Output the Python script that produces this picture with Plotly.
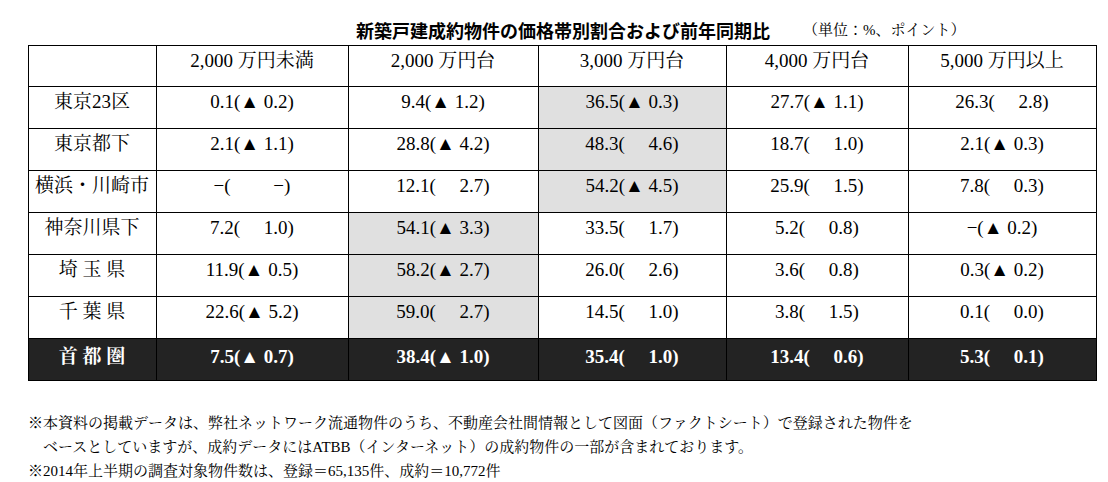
import plotly.graph_objects as go

regions = ["東京23区", "東京都下", "横浜・川崎市", "神奈川県下", "埼 玉 県", "千 葉 県", "<b>首 都 圏</b>"]
bands = ["2,000 万円未満", "2,000 万円台", "3,000 万円台", "4,000 万円台", "5,000 万円以上"]
shares = [
    [0.1, 9.4, 36.5, 27.7, 26.3],
    [2.1, 28.8, 48.3, 18.7, 2.1],
    [None, 12.1, 54.2, 25.9, 7.8],
    [7.2, 54.1, 33.5, 5.2, None],
    [11.9, 58.2, 26.0, 3.6, 0.3],
    [22.6, 59.0, 14.5, 3.8, 0.1],
    [7.5, 38.4, 35.4, 13.4, 5.3],
]
changes = [
    [-0.2, -1.2, -0.3, -1.1, 2.8],
    [-1.1, -4.2, 4.6, 1.0, -0.3],
    [None, 2.7, -4.5, 1.5, 0.3],
    [1.0, -3.3, 1.7, 0.8, -0.2],
    [-0.5, -2.7, 2.6, 0.8, -0.2],
    [-5.2, 2.7, 1.0, 1.5, 0.0],
    [-0.7, -1.0, 1.0, 0.6, 0.1],
]
highlight = [(0, 2), (1, 2), (2, 2), (3, 1), (4, 1), (5, 1)]

def fmt(v, c):
    s = "−" if v is None else f"{v:.1f}"
    if c is None:
        return s + "(　　 −)"
    if c < 0:
        return s + f"(▲ {abs(c):.1f})"
    return s + f"(　 {c:.1f})"

n = len(regions)
cols = [regions] + [[(f"<b>{fmt(shares[r][j], changes[r][j])}</b>" if r == n - 1 else fmt(shares[r][j], changes[r][j]))
                     for r in range(n)] for j in range(len(bands))]
fills = []
fcolors = []
for j in range(len(bands) + 1):
    col = []
    fc = []
    for r in range(n):
        if r == n - 1:
            col.append("#232323"); fc.append("white")
        elif j > 0 and (r, j - 1) in highlight:
            col.append("#e0e0e0"); fc.append("black")
        else:
            col.append("white"); fc.append("black")
    fills.append(col); fcolors.append(fc)

FONT = "Liberation Serif, Noto Serif CJK JP, Noto Sans CJK JP, serif"
fig = go.Figure(go.Table(
    columnwidth=[128, 192, 190, 188, 182, 188],
    header=dict(values=[""] + bands, fill_color="white", line_color="black",
                font=dict(family=FONT, size=19, color="black"), height=41, align="center"),
    cells=dict(values=cols, fill_color=fills, line_color="black",
               font=dict(family=FONT, size=19, color=fcolors), height=42, align="center"),
    domain=dict(x=[20/1108, 1088/1108], y=[0.18, 1 - 37/482]),
))
fig.add_annotation(x=555/1108, y=1-22/482, xref="paper", yref="paper", showarrow=False,
                   yanchor="middle", text="<b>新築戸建成約物件の価格帯別割合および前年同期比</b>",
                   font=dict(family="Noto Sans CJK JP", size=18, color="black"))
fig.add_annotation(x=960/1108, y=1-22/482, xref="paper", yref="paper", showarrow=False,
                   yanchor="middle", text="（単位：%、ポイント）", font=dict(family=FONT, size=15, color="black"))
notes = ["※本資料の掲載データは、弊社ネットワーク流通物件のうち、不動産会社間情報として図面（ファクトシート）で登録された物件を",
         "　ベースとしていますが、成約データにはATBB（インターネット）の成約物件の一部が含まれております。",
         "※2014年上半期の調査対象物件数は、登録＝65,135件、成約＝10,772件"]
for i, t in enumerate(notes):
    fig.add_annotation(x=18/1108, y=1-(414+i*24)/482, xref="paper", yref="paper", showarrow=False,
                       xanchor="left", yanchor="middle", text=t, font=dict(family=FONT, size=15, color="black"))
fig.update_layout(width=1108, height=482, margin=dict(l=0, r=0, t=0, b=0),
                  paper_bgcolor="white")
fig.write_html("out.html")
